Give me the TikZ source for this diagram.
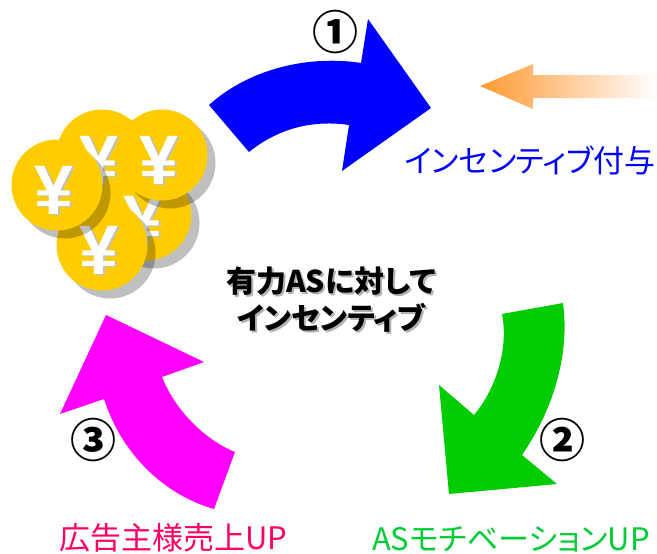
\documentclass[tikz,border=0pt]{standalone}
\usepackage{fontspec}
\setmainfont{Liberation Sans}
\newfontfamily\cjk[RawFeature=+palt]{Noto Sans CJK JP}
\usetikzlibrary{shadows}
\definecolor{coinyellow}{HTML}{FFCC00}
\definecolor{orangetip}{HTML}{FF9933}
\definecolor{stepblue}{HTML}{0000FF}
\definecolor{stepgreen}{HTML}{00CC00}
\definecolor{stepmagenta}{HTML}{FF00FF}
\definecolor{labelgreen}{HTML}{00CC33}
\definecolor{labelpink}{HTML}{FF0066}
\tikzset{
  coin/.style = {circle, fill=coinyellow, inner sep=0pt, minimum size=91pt,
    drop shadow={shadow xshift=8pt, shadow yshift=-8pt, fill=black, opacity=.25}},
  yen/.style = {inner sep=0pt, text=white, font=\fontsize{70}{70}\selectfont\bfseries},
  yenback/.style = {yen, text=black!25},
  number/.style = {font=\fontsize{46}{46}\selectfont\cjk\bfseries},
  steplabel/.style = {font=\fontsize{31}{34}\selectfont\cjk},
  centrelabel/.style = {align=center, font=\fontsize{30}{37}\selectfont\cjk\bfseries},
}
\begin{document}
\begin{tikzpicture}[x=1pt, y=-1pt]
    \useasboundingbox (0,0) rectangle (657,554);
    % block arrows
    \fill [stepblue] (209,105) .. controls (250,68) and (310,55) .. (361,63) -- (368,19)
      -- (431,108) -- (342,171) -- (349,125) .. controls (315,120) and (280,127) .. (249,152) -- cycle;
    \fill [stepgreen] (563,303) .. controls (570,355) and (553,410) .. (522,455) -- (557,484)
      -- (449,494) -- (439,385) -- (474,415) .. controls (495,390) and (509,350) .. (502,314) -- cycle;
    \fill [stepmagenta] (214,509) .. controls (165,495) and (122,455) .. (104,399) -- (60,414)
      -- (106,315) -- (204,362) -- (162,377) .. controls (175,410) and (205,440) .. (235,452)  -- cycle;
    \shade [left color=orangetip, right color=white] (480,86) -- (533,64) -- (533,75) -- (657,75)
      -- (657,98) -- (533,98) -- (533,109) -- cycle;
    % place coins
    \node [coin] (coinA) at (102,155) {};
    \node [yenback] at ([shift={(-1.5,6.5)}]coinA) {¥};
    \node [yen] at ([shift={(-3,5)}]coinA) {¥};
    \node [coin] (coinB) at (146,215) {};
    \node [yenback] at ([shift={(-1.5,6.5)}]coinB) {¥};
    \node [yen] at ([shift={(-3,5)}]coinB) {¥};
    \node [coin] (coinC) at (162,155) {};
    \node [yenback] at ([shift={(-1.5,6.5)}]coinC) {¥};
    \node [yen] at ([shift={(-3,5)}]coinC) {¥};
    \node [coin] (coinD) at (102,245) {};
    \node [yenback] at ([shift={(-1.5,6.5)}]coinD) {¥};
    \node [yen] at ([shift={(-3,5)}]coinD) {¥};
    \node [coin] (coinE) at (57,185) {};
    \node [yenback] at ([shift={(-1.5,6.5)}]coinE) {¥};
    \node [yen] at ([shift={(-3,5)}]coinE) {¥};
    % place labels
    \node [number] (one) at (335,32) {①};
    \node [number] (two) at (562,440) {②};
    \node [number] (three) at (93,440) {③};
    \node [steplabel, text=stepblue] (give) at (530,160) {インセンティブ付与};
    \node [steplabel, text=labelgreen] (motivation) at (511,539) {ASモチベーションUP};
    \node [steplabel, text=labelpink] (sales) at (173,538) {広告主様売上UP};
    \node [centrelabel, text=black!30] (centreback) at (333,302) {有力ASに対して\\インセンティブ};
    \node [centrelabel] (centre) at (331,300) {有力ASに対して\\インセンティブ};
  \end{tikzpicture}
\end{document}
